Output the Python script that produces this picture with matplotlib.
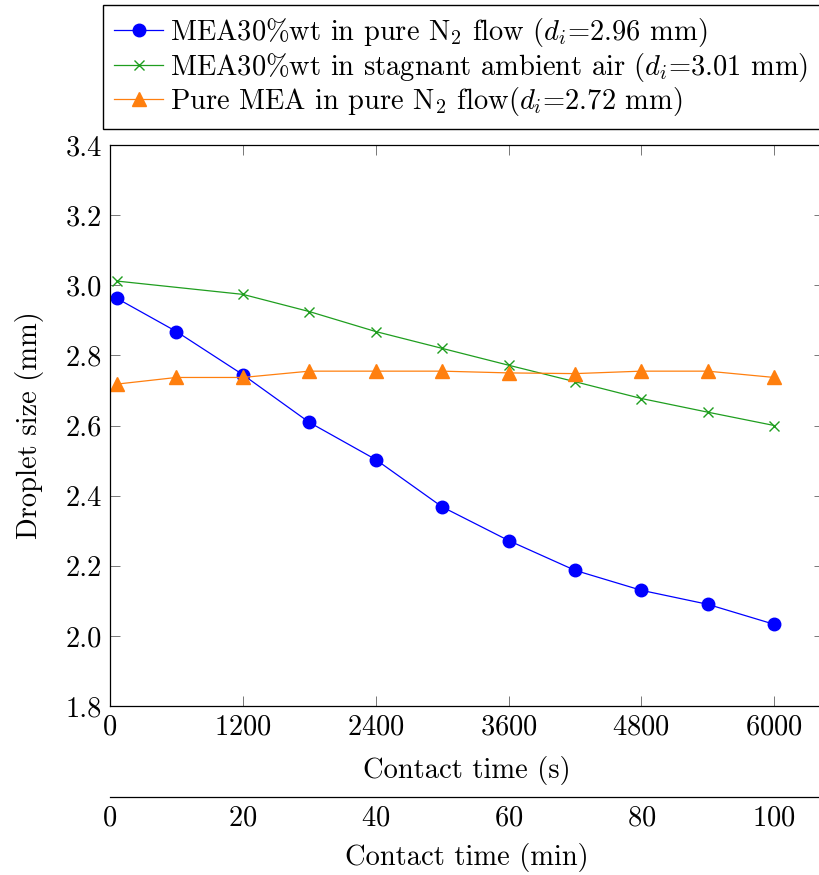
import matplotlib
matplotlib.use('Agg')
import matplotlib.pyplot as plt
import numpy as np

plt.rcParams['font.family'] = 'serif'
plt.rcParams['font.serif'] = ['cmr10']
plt.rcParams['mathtext.fontset'] = 'cm'
plt.rcParams['axes.formatter.use_mathtext'] = True

# contact time (s)
time_s = [60, 600, 1200, 1800, 2400, 3000, 3600, 4200, 4800, 5400, 6000]
time_s_air = [60, 1200, 1800, 2400, 3000, 3600, 4200, 4800, 5400, 6000]

mea30_n2 = [2.963, 2.868, 2.745, 2.609, 2.503, 2.368, 2.272, 2.187, 2.13, 2.09, 2.033]
mea30_air = [3.012, 2.974, 2.925, 2.868, 2.82, 2.772, 2.725, 2.677, 2.638, 2.60]
mea_pure_n2 = [2.718, 2.737, 2.737, 2.755, 2.755, 2.755, 2.75, 2.748, 2.755, 2.755, 2.737]

labels = [r'MEA30%wt in pure N$_2$ flow ($d_i$=2.96 mm)',
          r'MEA30%wt in stagnant ambient air ($d_i$=3.01 mm)',
          r'Pure MEA in pure N$_2$ flow($d_i$=2.72 mm)']

s_ticks = [0, 1200, 2400, 3600, 4800, 6000]
min_ticks = [0, 20, 40, 60, 80, 100]
y_ticks = [1.8, 2.0, 2.2, 2.4, 2.6, 2.8, 3.0, 3.2, 3.4]

FS = 20.5

fig = plt.figure(figsize=(8.19, 8.75), dpi=100)
ax = fig.add_axes([110 / 819, 169 / 875, 714 / 819, 561 / 875])

l1, = ax.plot(time_s, mea30_n2, color='#0000ff', lw=0.9, marker='o', ms=9)
l2, = ax.plot(time_s_air, mea30_air, color='#1f9e1f', lw=0.9, marker='x', ms=7.5,
              mew=1.0)
l3, = ax.plot(time_s, mea_pure_n2, color='#ff7f0e', lw=0.9, marker='^', ms=9.5)

ax.set_xlim(0, 6450)
ax.set_ylim(1.8, 3.4)
ax.set_xticks(s_ticks)
ax.set_yticks(y_ticks)
ax.set_yticklabels(['%.1f' % v for v in y_ticks])
ax.tick_params(direction='in', length=7, width=0.7, color='#777777',
               labelsize=FS, top=True, right=True, labelcolor='black', pad=6)
for sp in ax.spines.values():
    sp.set_linewidth(0.9)
ax.set_xlabel('Contact time (s)', fontsize=FS, labelpad=11)
ax.set_ylabel('Droplet size (mm)', fontsize=FS, labelpad=15)

sec = ax.secondary_xaxis(-91 / 561, functions=(lambda x: x / 60, lambda x: x * 60))
sec.set_xticks(min_ticks)
sec.tick_params(length=0, labelsize=FS, pad=6)
sec.spines['bottom'].set_linewidth(0.9)
sec.set_xlabel('Contact time (min)', fontsize=FS, labelpad=8)

fig.legend([l1, l2, l3], labels, loc='upper left', mode='expand',
           bbox_to_anchor=(103 / 819, 1 - 127 / 875, 725 / 819, 122 / 875),
           fontsize=FS, frameon=True, fancybox=False, framealpha=1,
           edgecolor='black', handlelength=1.7, handletextpad=0.25,
           borderpad=0.4, labelspacing=0.04, borderaxespad=0)

fig.savefig('out.png', dpi=100)
